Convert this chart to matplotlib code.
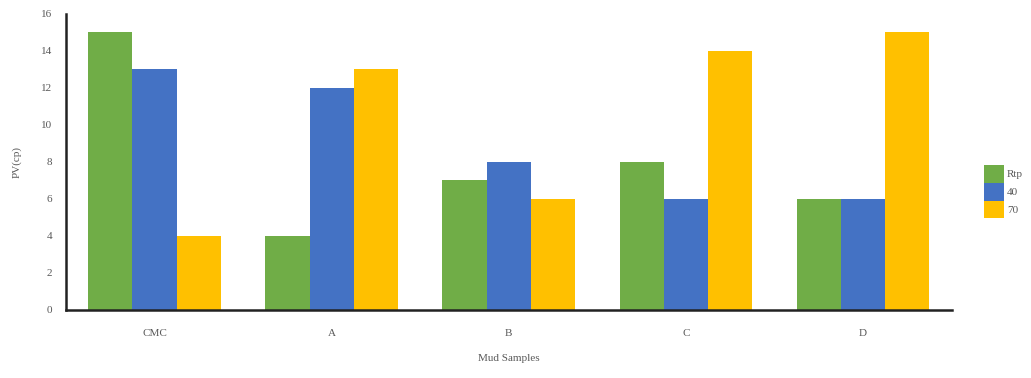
import matplotlib.pyplot as plt
import numpy as np

plt.rcParams['font.family'] = ['Liberation Serif', 'DejaVu Serif']

samples = ['CMC', 'A', 'B', 'C', 'D']
series_names = ['Rtp', '40', '70']
rtp = [15, 4, 7, 8, 6]
t40 = [13, 12, 8, 6, 6]
t70 = [4, 13, 6, 14, 15]
colors = ['#70AD47', '#4472C4', '#FFC000']

fig = plt.figure(figsize=(10.31, 3.78), dpi=100)
ax = fig.add_axes([0.064, 0.180, 0.859, 0.783])

x = np.arange(len(samples))
w = 0.25
for i, (vals, name) in enumerate(zip([rtp, t40, t70], series_names)):
    ax.bar(x + (i - 1) * w, vals, w, color=colors[i], label=name)

ax.set_xlim(-0.5, 4.5)
ax.set_ylim(0, 16)
ax.set_yticks(range(0, 17, 2))
ax.set_xticks(x)
ax.set_xticklabels(samples)
ax.tick_params(axis='y', length=0, labelsize=8, labelcolor='#595959', pad=10)
ax.tick_params(axis='x', length=0, labelsize=8, labelcolor='#595959', pad=14)
for s in ['top', 'right']:
    ax.spines[s].set_visible(False)
for s in ['left', 'bottom']:
    ax.spines[s].set_linewidth(1.8)
    ax.spines[s].set_color('#222222')

ax.set_ylabel('PV(cp)', fontsize=8, color='#595959', labelpad=14)
ax.set_xlabel('Mud Samples', fontsize=8, color='#595959', labelpad=11)

ax.legend(loc='center left', bbox_to_anchor=(1.03, 0.4), frameon=False,
          fontsize=8, labelcolor='#595959', handlelength=1.8, handleheight=2.1,
          labelspacing=0, handletextpad=0.3, borderpad=0)

fig.savefig('out.png', dpi=100)
